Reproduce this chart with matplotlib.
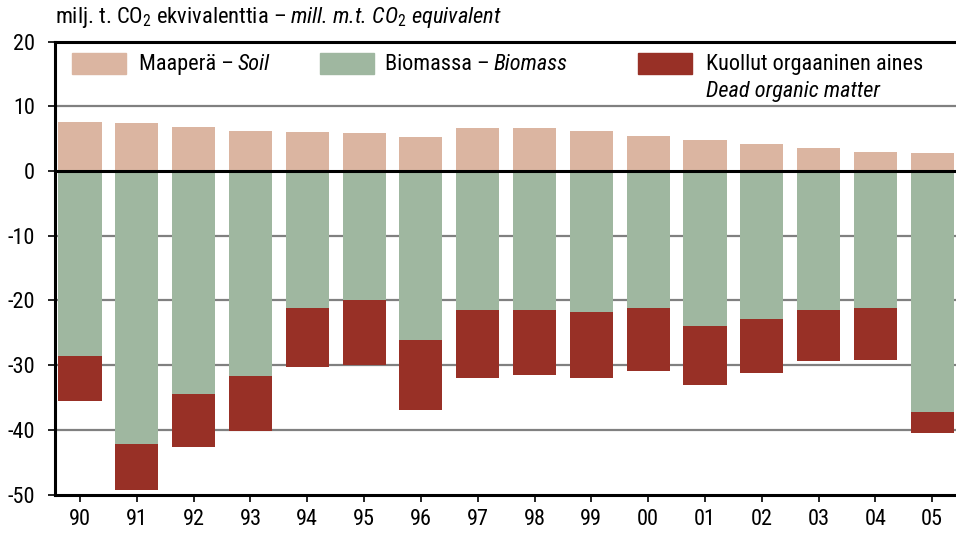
import matplotlib
matplotlib.use("Agg")
import matplotlib.pyplot as plt
from matplotlib.patches import Rectangle
from matplotlib import font_manager as fm
import numpy as np

avail = {f.name for f in fm.fontManager.ttflist}
FONT = next((f for f in ["Roboto Condensed", "PT Sans Narrow", "Archivo Narrow",
                         "Liberation Sans Narrow", "DejaVu Sans"] if f in avail), "DejaVu Sans")
plt.rcParams['font.family'] = [FONT, 'DejaVu Sans']
plt.rcParams['mathtext.fontset'] = 'custom'
plt.rcParams['mathtext.rm'] = FONT
plt.rcParams['mathtext.it'] = FONT + ':italic'

years = ["90", "91", "92", "93", "94", "95", "96", "97", "98", "99",
         "00", "01", "02", "03", "04", "05"]
soil = [7.6, 7.45, 6.8, 6.2, 6.05, 5.9, 5.3, 6.7, 6.7, 6.2,
        5.4, 4.8, 4.2, 3.6, 3.0, 2.8]
biomass = [-28.6, -42.1, -34.5, -31.7, -21.1, -20.0, -26.1, -21.5, -21.4, -21.8,
           -21.2, -24.0, -22.8, -21.4, -21.2, -37.2]
dead = [-6.9, -7.1, -8.1, -8.4, -9.2, -10.0, -10.8, -10.5, -10.1, -10.2,
        -9.7, -9.0, -8.4, -7.9, -8.0, -3.3]
yticks = [20, 10, 0, -10, -20, -30, -40, -50]

c_soil = "#dbb5a1"
c_bio = "#9fb7a0"
c_dead = "#983026"

W, H = 956, 533
fig = plt.figure(figsize=(W / 100, H / 100), dpi=100)
ax = fig.add_axes([54.5 / W, 1 - 494.7 / H, 1 - 54.5 / W, (494.7 - 41.5) / H])

x = np.arange(len(years))
bw = 0.76
ax.bar(x, soil, bw, color=c_soil, zorder=2)
ax.bar(x, biomass, bw, color=c_bio, zorder=2)
ax.bar(x, dead, bw, bottom=biomass, color=c_dead, zorder=2)

ax.set_xlim(-0.45, 15.42)
ax.set_ylim(-50, 20)
ax.set_yticks(yticks)
ax.set_yticklabels([str(v) for v in yticks])
ax.set_xticks(x)
ax.set_xticklabels(years)

for v in [10, -10, -20, -30, -40]:
    ax.axhline(v, color="#808080", lw=1.6, zorder=1)
ax.axhline(0, color="black", lw=2.2, zorder=3)

ax.spines["right"].set_visible(False)
for s in ["left", "bottom", "top"]:
    ax.spines[s].set_linewidth(2.2)
    ax.spines[s].set_color("black")
    ax.spines[s].set_zorder(4)

ax.tick_params(axis="y", length=5, width=1.2, pad=9, labelsize=16, colors="black")
ax.tick_params(axis="x", length=5, width=1.2, pad=5, labelsize=16, colors="black")

r = fig.canvas.get_renderer()

# title
t0 = fig.text(55 / W, 1 - 17 / H, "milj. t. CO$_2$ ekvivalenttia \u2013", fontsize=16.2,
              va="center", ha="left")
bb = t0.get_window_extent(renderer=r)
fig.text((bb.x1 + 4) / W, 1 - 17 / H, r"mill. m.t. CO$_{\mathit{2}}$ equivalent", fontsize=16.2,
         va="center", ha="left", style="italic")

# legend
def patch(x0, x1, y0, y1, c):
    fig.patches.append(Rectangle((x0 / W, 1 - y1 / H), (x1 - x0) / W, (y1 - y0) / H,
                                 transform=fig.transFigure, color=c, zorder=5))

def two(xp, yp, a, b):
    t = fig.text(xp / W, 1 - yp / H, a, fontsize=16, va="center", ha="left")
    bb = t.get_window_extent(renderer=r)
    fig.text((bb.x1 + 4) / W, 1 - yp / H, b, fontsize=16, va="center", ha="left", style="italic")

patch(72, 126, 53, 74, c_soil)
two(139, 64, "Maaper\u00e4 \u2013", "Soil")
patch(320, 374, 53, 74, c_bio)
two(385, 64, "Biomassa \u2013", "Biomass")
patch(638, 692, 53, 74, c_dead)
fig.text(706 / W, 1 - 64 / H, "Kuollut orgaaninen aines", fontsize=16, va="center", ha="left")
fig.text(706 / W, 1 - 92 / H, "Dead organic matter", fontsize=16, va="center", ha="left",
         style="italic")

fig.savefig("out.png", dpi=100)
